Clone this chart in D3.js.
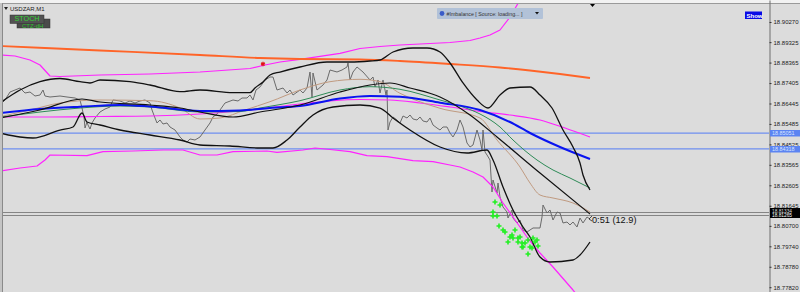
<!DOCTYPE html>
<meta charset="utf-8">
<title>USDZAR,M1</title>
<style>
  body { margin: 0; background: #dcdcdc; }
  svg { display: block; font-family: "Liberation Sans", Arial, sans-serif; }
</style>
<body>
<svg width="800" height="292"></svg>
<script src="https://d3js.org/d3.v7.min.js"></script>
<script>
  // ---- data (bar index, price) ----
  var tickLabels = ["18.90270", "18.89325", "18.88365", "18.87405", "18.86445", "18.85485", "18.84525",
    "18.83565", "18.82605", "18.81645", "18.80700", "18.79740", "18.78780", "18.77820"];

  // close price, M1
  var closeBars = [0, 2.5, 5, 7.5, 10, 12.5, 15, 17.5, 20, 21.5, 22.5, 25, 30, 33.5, 37.5, 40, 41, 42, 42.5, 43.5,
    44, 45, 46, 47.5, 50, 52.5, 55, 56.5, 60, 62.5, 65, 67.5, 70, 72.5, 75, 76, 77.5, 78.5, 80, 81.5,
    83.5, 85, 87.5, 90, 91.5, 93.5, 95, 97.5, 100, 102.5, 105, 106.5, 108.5, 110, 112.5, 116.5, 119, 121, 123.5, 125,
    126.5, 128, 130, 132.5, 135, 136.5, 138.5, 141.5, 143.5, 145, 146.5, 150, 151.5, 153.5, 155, 156, 156.5, 158.5, 161.5, 163.5,
    165, 168.5, 171, 173.5, 174, 175, 176.5, 178.5, 181.5, 185, 186.5, 187.5, 189, 190, 191.5, 193, 193.5, 194, 195, 196.5,
    198.5, 200, 201.5, 203.5, 205, 206.5, 208.5, 210, 211.5, 213.5, 215, 216.5, 218.5, 220, 221.5, 223.5, 225, 226.5, 228.5, 230,
    231.5, 233.5, 235, 236.5, 238.5, 240, 241, 241.5, 242.5, 243.5, 245, 246, 246.5, 248.5, 249, 250, 251.5, 253.5, 254, 256,
    256.5, 258.5, 260, 261.5, 263.5, 266.5, 270, 271, 271.5, 273.5, 275, 276.5, 278.5, 280, 281.5, 283.5, 285, 286.5, 288.5, 290,
    291.5, 293.5, 295];
  var closeVals = [18.86374, 18.86609, 18.86984, 18.87078, 18.87172, 18.86937, 18.86984, 18.86796, 18.86843, 18.87078,
    18.86796, 18.86749, 18.86796, 18.86749, 18.86702, 18.86609, 18.86233, 18.85811, 18.85294, 18.85576,
    18.85435, 18.85247, 18.85529, 18.85764, 18.86045, 18.86186, 18.86280, 18.86609, 18.86562, 18.86468,
    18.86562, 18.86468, 18.86562, 18.86609, 18.86468, 18.86139, 18.85764, 18.85529, 18.85670, 18.85482,
    18.85529, 18.85341, 18.85200, 18.84872, 18.84731, 18.84637, 18.84778, 18.84731, 18.84872, 18.85200,
    18.85529, 18.85811, 18.85951, 18.86139, 18.86468, 18.86609, 18.86562, 18.86702, 18.86702, 18.86843,
    18.86609, 18.87078, 18.87219, 18.87548, 18.87688, 18.87688, 18.87078, 18.87172, 18.86937, 18.87078,
    18.86843, 18.87078, 18.86937, 18.87172, 18.87923, 18.86749, 18.87876, 18.87078, 18.87313, 18.87548,
    18.88017, 18.87923, 18.88017, 18.88158, 18.88346, 18.87548, 18.87923, 18.88158, 18.87923, 18.87548,
    18.87688, 18.87219, 18.87548, 18.86937, 18.87548, 18.86843, 18.87078, 18.85200, 18.85576, 18.85811,
    18.85670, 18.85529, 18.85858, 18.85764, 18.85904, 18.85717, 18.85670, 18.85811, 18.85623, 18.85576,
    18.85764, 18.85435, 18.85294, 18.85200, 18.85341, 18.85341, 18.85059, 18.84872, 18.85200, 18.85670,
    18.85341, 18.84590, 18.84402, 18.84496, 18.85200, 18.84731, 18.84261, 18.85200, 18.84168, 18.84027,
    18.83792, 18.82290, 18.82853, 18.82243, 18.82712, 18.82055, 18.81586, 18.81351, 18.81069, 18.81445,
    18.81069, 18.80835, 18.80975, 18.80506, 18.80412, 18.80600, 18.80600, 18.81116, 18.81679, 18.81304,
    18.81445, 18.80975, 18.81351, 18.81304, 18.80835, 18.80881, 18.80741, 18.80881, 18.80647, 18.81069,
    18.80835, 18.81116, 18.81022];

  // long MA (orange)
  var orangeBars = [0, 50, 100, 130, 150, 180, 200, 225, 250, 265, 280, 295];
  var orangeVals = [18.89144, 18.88932, 18.88721, 18.88580, 18.88533, 18.88510, 18.88439, 18.88299, 18.88134, 18.87993, 18.87829, 18.87641];

  // envelope (magenta) upper / middle / lower
  var envUpBars = [0, 7.5, 15, 20, 25, 30, 50, 75, 100, 125, 132.5, 140, 150, 170, 180, 190, 200, 225, 235, 240, 245, 250, 255, 260, 265];
  var envUpVals = [18.88721, 18.88674, 18.88486, 18.88252, 18.87735, 18.87712, 18.87782, 18.87829, 18.87923, 18.88087, 18.88252,
    18.88393, 18.88519, 18.88801, 18.89026, 18.89120, 18.89191, 18.89308, 18.89402, 18.89519, 18.89660, 18.89895, 18.90505, 18.91303, 18.92007];
  var envMidBars = [0, 25, 50, 75, 100, 125, 150, 165, 180, 195, 210, 225, 240, 255, 270, 282.5, 295];
  var envMidVals = [18.85811, 18.85811, 18.85834, 18.85858, 18.85951, 18.86139, 18.86421, 18.86562, 18.86632, 18.86609,
    18.86468, 18.86280, 18.86069, 18.85904, 18.85670, 18.85294, 18.84872];
  var envLowBars = [0, 10, 18.5, 22.5, 25, 43.5, 51.5, 66.5, 81.5, 91.5, 100, 108.5, 116.5, 133.5, 138.5, 151.5, 157.5, 165, 175,
    183.5, 193.5, 206.5, 216.5, 225, 230, 236.5, 241.5, 246.5, 251.5, 256.5, 263.5, 270, 276.5, 286.5, 292.5];
  var envLowVals = [18.83276, 18.83416, 18.83510, 18.83792, 18.84027, 18.83994, 18.84182, 18.84214, 18.84261, 18.84261,
    18.84027, 18.84027, 18.84182, 18.84214, 18.84153, 18.84261, 18.84355, 18.84285, 18.84182, 18.83994, 18.83947, 18.83759,
    18.83712, 18.83557, 18.83463, 18.83229, 18.82994, 18.82525, 18.81773, 18.81116, 18.80177, 18.79426, 18.78769, 18.77689, 18.76985];

  // moving averages
  var blueBars = [0, 20, 40, 60, 75, 100, 120, 135, 150, 170, 185, 200, 220, 240, 255, 265, 280, 295];
  var blueVals = [18.85998, 18.86186, 18.86294, 18.86374, 18.86303, 18.86092, 18.86116, 18.86233, 18.86327, 18.86679,
    18.86796, 18.86763, 18.86482, 18.86139, 18.85576, 18.85059, 18.84402, 18.83839];
  var greenBars = [0, 20, 40, 60, 75, 100, 120, 130, 150, 170, 185, 200, 220, 230, 240, 250, 256.5, 268.5, 276.5, 285, 295];
  var greenVals = [18.85797, 18.86045, 18.86233, 18.86327, 18.86280, 18.86045, 18.86069, 18.86233, 18.86576, 18.87078,
    18.87233, 18.87111, 18.86609, 18.86327, 18.85951, 18.85341, 18.84731, 18.83792, 18.83323, 18.82947, 18.82478];
  var tanBars = [0, 15, 30, 50, 75, 90, 100, 110, 122.5, 135, 150, 165, 180, 190, 200, 220, 240, 248.5, 260, 265, 270, 276.5, 286.5, 295];
  var tanVals = [18.85825, 18.86139, 18.86468, 18.86609, 18.86576, 18.86233, 18.85717, 18.85764, 18.86139, 18.86529,
    18.87078, 18.87468, 18.87580, 18.87468, 18.86923, 18.86219, 18.85764, 18.84731, 18.83463, 18.82712, 18.82149, 18.82008, 18.81773, 18.81351];

  // bollinger (black) upper / middle / lower
  var bbUpBars = [0, 10, 20, 30, 40, 45, 50, 65, 75, 90, 100, 116.5, 125, 127.5, 131.5, 135, 140, 150, 163.5, 175,
    185, 190, 196.5, 206.5, 213.5, 220, 225, 231.5, 238.5, 244, 250, 255, 265, 270, 276, 281.5, 286.5, 290, 291.5, 295];
  var bbUpVals = [18.86468, 18.87078, 18.87468, 18.87618, 18.87468, 18.87407, 18.87548, 18.87468, 18.87313, 18.86998,
    18.87078, 18.86951, 18.86951, 18.87172, 18.87454, 18.87782, 18.87923, 18.88158, 18.88393, 18.88393,
    18.88439, 18.88486, 18.88862, 18.89050, 18.89050, 18.88862, 18.88346, 18.87407, 18.86609, 18.86233,
    18.86843, 18.87172, 18.87219, 18.86843, 18.86233, 18.85200, 18.84402, 18.83651, 18.83088, 18.82384];
  var bbMidBars = [0, 20, 41, 50, 75, 90, 100, 116.5, 130, 150, 170, 185, 195, 205, 220, 235, 248.5, 270, 295];
  var bbMidVals = [18.85764, 18.86139, 18.86656, 18.86515, 18.86374, 18.86233, 18.86045, 18.85811, 18.86045, 18.86374,
    18.86984, 18.87313, 18.87407, 18.87172, 18.86749, 18.85904, 18.84872, 18.83182, 18.81257];
  var bbLowBars = [0, 10, 16.5, 30, 36.5, 41, 43.5, 50, 60, 75, 90, 100, 115, 130, 136.5, 143.5, 150, 156.5, 166.5, 180,
    190, 196.5, 205, 220, 233.5, 243.5, 246.5, 251.5, 256.5, 261.5, 265, 270, 275, 286.5, 290, 295];
  var bbLowVals = [18.85059, 18.84872, 18.84825, 18.85200, 18.85341, 18.85998, 18.85576, 18.85435, 18.85200, 18.84966,
    18.84731, 18.84496, 18.84449, 18.84355, 18.84355, 18.84731, 18.85341, 18.85904, 18.86280, 18.86374,
    18.86233, 18.85764, 18.85200, 18.84402, 18.84121, 18.84261, 18.83792, 18.82525, 18.81445, 18.80647,
    18.80177, 18.79238, 18.79004, 18.79098, 18.79332, 18.79943];

  // signal crosses (green)
  var crossBars = [247.5, 250, 246.5, 246.5, 248.5, 249.5, 251.5, 252.5, 255, 256, 257.5, 256.5, 254, 259, 260, 259,
    261, 261.5, 262.5, 264, 265, 266.5, 267.5, 268.5, 269, 266, 264, 261];
  var crossVals = [18.81820, 18.81679, 18.81351, 18.81163, 18.81163, 18.80694, 18.80506, 18.80412, 18.80177, 18.80271,
    18.80506, 18.80130, 18.79943, 18.80130, 18.80177, 18.79943, 18.79896, 18.79708, 18.79896, 18.80037,
    18.79708, 18.80130, 18.79943, 18.80037, 18.79755, 18.79661, 18.79379, 18.79708];

  var starBar = 131.5, starVal = 18.88299;
  var levelVals = [18.85051, 18.84318];
  var bidVal = 18.81334, askVal = 18.81265;
  var timerText = "0:51 (12.9)";

  // ---- drawing ----
  var svg = d3.select("svg"),
    width = +svg.attr("width"),
    height = +svg.attr("height"),
    plotLeft = 3, plotTop = 4, plotRight = 769;

  var x = d3.scaleLinear().domain([0, 295]).range([0, 590]);
  var y = d3.scaleLinear().domain([18.91303, 18.77220]).range([0, 300]);

  svg.append("rect").attr("width", width).attr("height", height).attr("fill", "#dcdcdc");

  // toolbar strip and frame
  svg.append("rect").attr("width", width).attr("height", 3).attr("fill", "#f2f2f2");
  svg.append("line").attr("x1", 0).attr("x2", width).attr("y1", 3.5).attr("y2", 3.5).attr("stroke", "#9a9a9a");
  svg.append("rect").attr("x", 0).attr("y", 3).attr("width", 2).attr("height", height).attr("fill", "#c4c4c4");
  svg.append("line").attr("x1", 2.5).attr("x2", 2.5).attr("y1", 3).attr("y2", height).attr("stroke", "#8a8a8a");

  svg.append("clipPath").attr("id", "plotclip")
    .append("rect").attr("x", plotLeft).attr("y", plotTop)
    .attr("width", plotRight - plotLeft).attr("height", height - plotTop);

  var plot = svg.append("g").attr("clip-path", "url(#plotclip)");

  // horizontal levels
  plot.selectAll(".level").data(levelVals).enter().append("line")
    .attr("x1", plotLeft).attr("x2", plotRight)
    .attr("y1", function (d) { return y(d); }).attr("y2", function (d) { return y(d); })
    .attr("stroke", "#6f8ff0").attr("stroke-width", 1.2);

  plot.selectAll(".bidask").data([bidVal, askVal]).enter().append("line")
    .attr("x1", plotLeft).attr("x2", plotRight)
    .attr("y1", function (d, i) { return Math.round(y(d)) + 0.5 + i; })
    .attr("y2", function (d, i) { return Math.round(y(d)) + 0.5 + i; })
    .attr("stroke", "#858585").attr("stroke-width", 1);

  function drawLine(bars, vals, color, w, curve) {
    var pts = bars.map(function (b, i) { return [b, vals[i]]; });
    plot.append("path")
      .datum(pts)
      .attr("fill", "none")
      .attr("stroke", color)
      .attr("stroke-width", w)
      .attr("stroke-linejoin", "round")
      .attr("d", d3.line()
        .x(function (d) { return x(d[0]); })
        .y(function (d) { return y(d[1]); })
        .curve(curve || d3.curveMonotoneX));
  }

  drawLine(closeBars, closeVals, "#6a6a6a", 1, d3.curveLinear);
  drawLine(envUpBars, envUpVals, "#ff22ff", 1.2, d3.curveLinear);
  drawLine(envLowBars, envLowVals, "#ff22ff", 1.2, d3.curveLinear);
  drawLine(envMidBars, envMidVals, "#ff22ff", 1.2);
  drawLine(orangeBars, orangeVals, "#ff6428", 1.8);
  drawLine(tanBars, tanVals, "#c09a80", 1);
  drawLine(greenBars, greenVals, "#2e8b57", 1);
  drawLine(blueBars, blueVals, "#0a14f0", 2);
  drawLine(bbUpBars, bbUpVals, "#111111", 1.3);
  drawLine(bbMidBars, bbMidVals, "#111111", 1.2);
  drawLine(bbLowBars, bbLowVals, "#111111", 1.3);

  // green signal crosses
  plot.selectAll(".cross").data(crossBars).enter().append("path")
    .attr("transform", function (d, i) { return "translate(" + x(d) + "," + y(crossVals[i]) + ")"; })
    .attr("d", "M-2.5,0H2.5M0,-2.5V2.5")
    .attr("stroke", "#22f022").attr("stroke-width", 1.6);

  plot.append("path")
    .attr("transform", "translate(" + x(starBar) + "," + y(starVal) + ")")
    .attr("d", d3.symbol(d3.symbolAsterisk, 14))
    .attr("fill", "none").attr("stroke", "#e01010").attr("stroke-width", 1.2);

  // bar timer
  var lastX = x(closeBars[closeBars.length - 1]);
  svg.append("path")
    .attr("d", "M" + (lastX + 2) + ",216 L" + (lastX - 1) + ",219 L" + (lastX + 2) + ",221")
    .attr("fill", "none").attr("stroke", "#222").attr("stroke-width", 0.8);
  svg.append("text").attr("x", lastX + 2).attr("y", 223)
    .attr("font-size", "9.2px").attr("fill", "#111").text(timerText);

  // price axis
  var axis = svg.append("g")
    .attr("transform", "translate(" + (plotRight + 0.5) + ",0)")
    .call(d3.axisRight(y)
      .tickValues(tickLabels.map(Number))
      .tickFormat(function (d, i) { return tickLabels[i]; })
      .tickSize(2).tickSizeOuter(0).tickPadding(2));
  axis.select(".domain").attr("stroke", "#6e6e6e");
  axis.selectAll(".tick line").attr("stroke", "#333");
  axis.selectAll("text").attr("font-size", "6px").attr("fill", "#222")
    .attr("font-family", "Liberation Sans, Arial, sans-serif");

  // price labels on axis
  function priceTag(val, fill, txt) {
    var g = svg.append("g").attr("transform", "translate(770," + Math.round(y(val)) + ")");
    g.append("rect").attr("x", 0).attr("y", -3).attr("width", 30).attr("height", 6.5).attr("fill", fill);
    g.append("text").attr("x", 2).attr("y", 2.2).attr("font-size", "5.4px").attr("fill", txt).text(val.toFixed(5));
  }
  levelVals.forEach(function (v) { priceTag(v, "#5c84f2", "#d8e4ff"); });
  var bidY = Math.round(y(bidVal));
  svg.append("rect").attr("x", 770).attr("y", bidY - 4).attr("width", 30).attr("height", 10).attr("fill", "#000");
  svg.append("text").attr("x", 772).attr("y", bidY + 0.8).attr("font-size", "4.8px").attr("fill", "#ddd").text(bidVal.toFixed(5));
  svg.append("text").attr("x", 772).attr("y", bidY + 5.4).attr("font-size", "4.8px").attr("fill", "#fff").text(askVal.toFixed(5));

  // shift marker
  svg.append("path").attr("d", "M590,4 L595,4 L592.5,7 Z").attr("fill", "#000");

  // symbol caption
  svg.append("path").attr("d", "M4,7 L8,7 L6,10 Z").attr("fill", "#222");
  svg.append("text").attr("x", 10).attr("y", 10.5).attr("font-size", "6px").attr("fill", "#222").text("USDZAR,M1");

  // indicator buttons
  svg.append("rect").attr("x", 17).attr("y", 19).attr("width", 33).attr("height", 9).attr("fill", "#4a4a4a").attr("stroke", "#333").attr("stroke-width", 0.5);
  svg.append("text").attr("x", 22).attr("y", 28).attr("font-size", "6px").attr("fill", "#2fbf2f").text("CTZ-dH");
  svg.append("rect").attr("x", 10).attr("y", 15).attr("width", 34).attr("height", 8.5).attr("fill", "#525252").attr("stroke", "#333").attr("stroke-width", 0.5);
  svg.append("text").attr("x", 14.5).attr("y", 21.4).attr("font-size", "7.2px").attr("fill", "#36d236").text("STOCH");

  // imbalance panel
  svg.append("rect").attr("x", 437).attr("y", 8).attr("width", 106).attr("height", 11).attr("rx", 1).attr("fill", "#b2c2d8");
  svg.append("circle").attr("cx", 442).attr("cy", 13.5).attr("r", 2.4).attr("fill", "#3a5cc8");
  svg.append("text").attr("x", 446.5).attr("y", 15.5).attr("font-size", "5.3px").attr("fill", "#333").text("#Imbalance [ Source: loading... ]");
  svg.append("path").attr("d", "M535,12 L539,12 L537,14.5 Z").attr("fill", "#111");

  // show button
  svg.append("rect").attr("x", 745).attr("y", 11.5).attr("width", 17).attr("height", 7.5).attr("fill", "#0a0ae6");
  svg.append("text").attr("x", 746.5).attr("y", 17.5).attr("font-size", "6px").attr("font-weight", "bold").attr("fill", "#fff").text("Show");
</script>
</body>
